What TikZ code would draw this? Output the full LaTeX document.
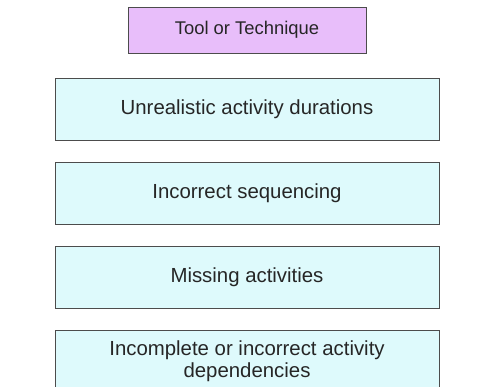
\documentclass[tikz,border=0pt]{standalone}
\usepackage{fontspec}
\setmainfont{Liberation Sans}
\usetikzlibrary{positioning}
\definecolor{toolfill}{RGB}{232,190,250}
\definecolor{causefill}{RGB}{222,250,252}

\begin{document}
\begin{tikzpicture}[
    x=0.03cm, y=-0.03cm, node distance=0.645cm,
    box/.style={draw=black!70, thick, inner sep=0, align=center, text=black!85},
    tool/.style={box, fill=toolfill, minimum width=7.14cm, minimum height=1.38cm, font=\fontsize{15.7}{18}\selectfont},
    cause/.style={box, fill=causefill, minimum width=11.52cm, minimum height=1.845cm, font=\fontsize{17.4}{18.7}\selectfont},
  ]
  \useasboundingbox (0,0) rectangle (495,387);

  \node[tool] (tool) at (247,30) {Tool or Technique};
  \node[cause, below=0.75cm of tool] (durations) {Unrealistic activity durations};
  \node[cause, below=of durations] (sequencing) {Incorrect sequencing};
  \node[cause, below=of sequencing] (missing) {Missing activities};
  \node[cause, below=of missing] (dependencies) {Incomplete or incorrect activity\\dependencies};

\end{tikzpicture}
\end{document}
